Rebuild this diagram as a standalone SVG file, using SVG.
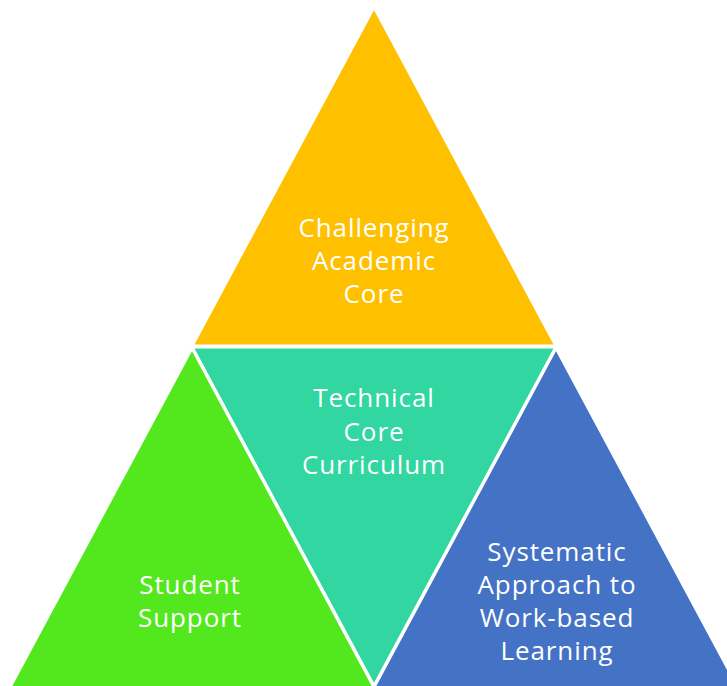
<svg xmlns="http://www.w3.org/2000/svg" width="727" height="686" viewBox="0 0 727 686">
<style>
.tri{stroke:#FFFFFF;stroke-width:3;stroke-linejoin:miter}
.lbl{font-family:"Open Sans","Liberation Sans",sans-serif;font-size:26px;fill:#FFFFFF;text-anchor:middle;letter-spacing:0.9px}
</style>
<rect width="727" height="686" fill="#FFFFFF"/>
<g id="top">
<polygon class="tri" fill="#FFC000" points="374,7 192,346 556,346"/>
<text class="lbl" x="374" y="237">Challenging</text>
<text class="lbl" x="374" y="270">Academic</text>
<text class="lbl" x="374" y="303">Core</text>
</g>
<g id="middle">
<polygon class="tri" fill="#31D6A0" points="192,347 556,347 374,686"/>
<text class="lbl" x="374" y="407">Technical</text>
<text class="lbl" x="374" y="441">Core</text>
<text class="lbl" x="374" y="474">Curriculum</text>
</g>
<g id="left">
<polygon class="tri" fill="#53E81D" points="192,348 8,691 376,691"/>
<text class="lbl" x="190" y="594">Student</text>
<text class="lbl" x="190" y="627">Support</text>
</g>
<g id="right">
<polygon class="tri" fill="#4472C4" points="556,348 372,691 740,691"/>
<text class="lbl" x="557" y="561">Systematic</text>
<text class="lbl" x="557" y="594">Approach to</text>
<text class="lbl" x="557" y="627">Work-based</text>
<text class="lbl" x="557" y="660">Learning</text>
</g>
<g id="connectors"></g>
</svg>
